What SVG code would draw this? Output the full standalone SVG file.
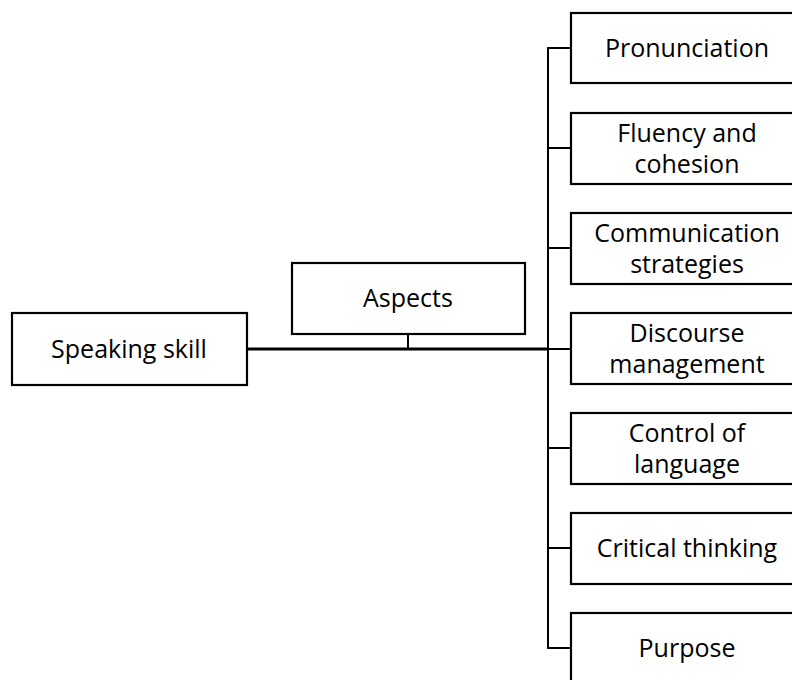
<svg xmlns="http://www.w3.org/2000/svg" width="792" height="680" viewBox="0 0 792 680">
<style>
.box{fill:#fff;stroke:#000;stroke-width:2.2}
.t{font-family:"Open Sans","Liberation Sans",sans-serif;font-size:25px;fill:#000;text-anchor:middle}
.ln{stroke:#000;stroke-width:2;fill:none}
.main{stroke:#000;stroke-width:3;fill:none}
</style>
<rect width="792" height="680" fill="#fff"/>
<g id="connectors">
<line class="main" x1="247" y1="349" x2="549" y2="349"/>
<line class="ln" x1="408" y1="334" x2="408" y2="349"/>
<line class="ln" x1="548" y1="47" x2="548" y2="649"/>
<line class="ln" x1="547" y1="48" x2="571" y2="48"/>
<line class="ln" x1="547" y1="148" x2="571" y2="148"/>
<line class="ln" x1="547" y1="248" x2="571" y2="248"/>
<line class="ln" x1="547" y1="349" x2="571" y2="349"/>
<line class="ln" x1="547" y1="448" x2="571" y2="448"/>
<line class="ln" x1="547" y1="548" x2="571" y2="548"/>
<line class="ln" x1="547" y1="648" x2="571" y2="648"/>
</g>
<g id="speaking">
<rect class="box" x="12" y="313" width="235" height="72"/>
<text class="t" x="129" y="358">Speaking skill</text>
</g>
<g id="aspects">
<rect class="box" x="292" y="263" width="233" height="71"/>
<text class="t" x="408" y="307">Aspects</text>
</g>
<g id="pronunciation">
<rect class="box" x="571" y="13" width="233" height="70"/>
<text class="t" x="687" y="57">Pronunciation</text>
</g>
<g id="fluency">
<rect class="box" x="571" y="113" width="233" height="71"/>
<text class="t" x="687" y="141.5">Fluency and</text>
<text class="t" x="687" y="173">cohesion</text>
</g>
<g id="communication">
<rect class="box" x="571" y="213" width="233" height="71"/>
<text class="t" x="687" y="241.5">Communication</text>
<text class="t" x="687" y="273">strategies</text>
</g>
<g id="discourse">
<rect class="box" x="571" y="313" width="233" height="71"/>
<text class="t" x="687" y="341.5">Discourse</text>
<text class="t" x="687" y="373">management</text>
</g>
<g id="control">
<rect class="box" x="571" y="413" width="233" height="71"/>
<text class="t" x="687" y="441.5">Control of</text>
<text class="t" x="687" y="473">language</text>
</g>
<g id="critical">
<rect class="box" x="571" y="513" width="233" height="71"/>
<text class="t" x="687" y="557">Critical thinking</text>
</g>
<g id="purpose">
<rect class="box" x="571" y="613" width="233" height="71"/>
<text class="t" x="687" y="657">Purpose</text>
</g>
</svg>
